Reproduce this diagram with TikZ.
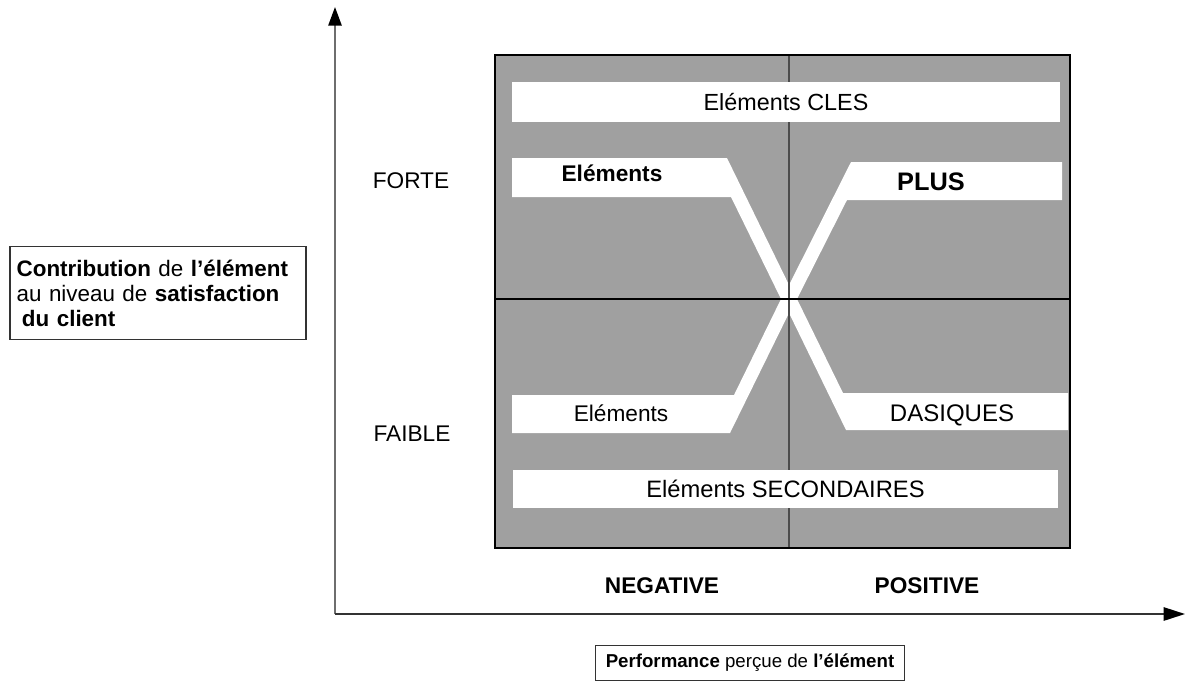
\documentclass[tikz,border=0pt]{standalone}
\usepackage{fontspec}
\setmainfont{Liberation Sans}
\usetikzlibrary{arrows.meta}
\definecolor{panelgray}{RGB}{160,160,160}
\definecolor{axisgray}{RGB}{110,110,110}
\begin{document}
\begin{tikzpicture}[x=0.75pt,y=-0.75pt,
  lbl/.style={font=\fontsize{17}{19}\selectfont, inner sep=0pt},
  bandtxt/.style={lbl, fill=white, minimum height=30pt, anchor=center},
  strip/.style={fill=white, draw=none},
  boxed/.style={draw=black!80, line width=0.9pt, fill=white},
  axisline/.style={line width=1.3pt}
]
\useasboundingbox (0,0) rectangle (1186,683);

% axes
\coordinate (O) at (335,614);
\coordinate (ytip) at (335,7);
\coordinate (xtip) at (1185,614);
\draw[axisline, draw=axisgray, -{Triangle[length=14pt,width=10pt,color=black]}] (O) -- (ytip);
\draw[axisline, draw=black!80, -{Triangle[length=16pt,width=10pt,color=black]}] (O) -- (xtip);

% panel
\fill[panelgray] (495,55) rectangle (1070,548);

% X strips
\fill[strip] (512,158) -- (727,158) -- (791,289) -- (789,299) -- (781,299) -- (731,197) -- (512,197) -- cycle;
\fill[strip] (1062,162) -- (851,162) -- (787,289) -- (789,299) -- (797,299) -- (847,200) -- (1062,200) -- cycle;
\fill[strip] (512,395) -- (734,395) -- (781,299) -- (797,299) -- (789,313) -- (730,433) -- (512,433) -- cycle;
\fill[strip] (1068,393) -- (843,393) -- (797,299) -- (781,299) -- (789,313) -- (846,430) -- (1068,430) -- cycle;

% cross lines
\draw[draw=black!70, line width=0.8pt] (789,55) -- (789,548);
\draw[draw=black, line width=0.9pt] (495,299) -- (1070,299);
\draw[draw=black, line width=0.9pt] (495,55) rectangle (1070,548);

% full bands
\node[bandtxt, minimum width=411pt, font=\fontsize{17.5}{19}\selectfont] (cles) at (786,102) {Eléments CLES};
\node[bandtxt, minimum width=409pt, minimum height=28pt, font=\fontsize{17.8}{19}\selectfont] (second) at (785.5,489) {Eléments SECONDAIRES};

% strip labels
\node[lbl, font=\fontsize{17}{19}\selectfont\bfseries] (elh) at (612,173) {Eléments};
\node[lbl, font=\fontsize{19}{21}\selectfont\bfseries] (plus) at (931,182) {PLUS};
\node[lbl] (elb) at (621,413) {Eléments};
\node[lbl, font=\fontsize{18}{20}\selectfont] (basiq) at (952,415) {DASIQUES};

% side labels
\node[lbl] (forte) at (411,181) {FORTE};
\node[lbl] (faible) at (412,434) {FAIBLE};
\node[lbl, font=\fontsize{17}{19}\selectfont\bfseries] (neg) at (662,586) {NEGATIVE};
\node[lbl, font=\fontsize{17}{19}\selectfont\bfseries] (pos) at (927,586) {POSITIVE};

% axis titles
\node[boxed, lbl, text width=212pt, inner xsep=5pt, inner ysep=6pt, align=left, minimum height=70pt,
      font=\fontsize{16.8}{18.8}\selectfont] (contrib) at (158,293)
  {\textbf{Contribution} de \textbf{l'élément}\\au niveau de \textbf{satisfaction}\\\hspace*{4pt}\textbf{du client}};
\node[boxed, lbl, minimum width=232pt, minimum height=26pt, font=\fontsize{14}{16}\selectfont] (perf) at (750,663)
  {\textbf{Performance} perçue de \textbf{l'élément}};
\end{tikzpicture}
\end{document}
